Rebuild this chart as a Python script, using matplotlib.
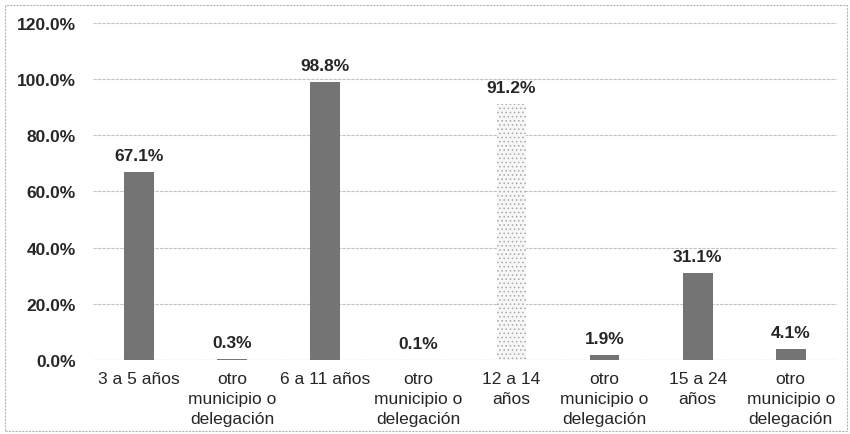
import matplotlib
matplotlib.use("Agg")
import matplotlib.pyplot as plt
from matplotlib.patches import Rectangle

plt.rcParams['font.family'] = ['Liberation Sans', 'DejaVu Sans']
plt.rcParams['hatch.linewidth'] = 0.6

categories = ["3 a 5 años", "otro\nmunicipio o\ndelegación", "6 a 11 años",
              "otro\nmunicipio o\ndelegación", "12 a 14\naños",
              "otro\nmunicipio o\ndelegación", "15 a 24\naños",
              "otro\nmunicipio o\ndelegación"]
values = [67.1, 0.3, 98.8, 0.1, 91.2, 1.9, 31.1, 4.1]
value_labels = ["67.1%", "0.3%", "98.8%", "0.1%", "91.2%", "1.9%", "31.1%", "4.1%"]
yticks = [0, 20, 40, 60, 80, 100, 120]
ytick_labels = ["0.0%", "20.0%", "40.0%", "60.0%", "80.0%", "100.0%", "120.0%"]

FS = 12.5

fig = plt.figure(figsize=(8.5, 4.35), dpi=100)
ax = fig.add_axes([0.109, 0.170, 0.876, 0.775])

x = list(range(len(values)))
bars = ax.bar(x, values, width=0.32, color="#747474", zorder=3, linewidth=0)
light = bars[4]
light.set_facecolor("#f7f7f7")
light.set_hatch("....")
light.set_edgecolor("#a8a8a8")
light.set_linewidth(0)

for xi, v, lab in zip(x, values, value_labels):
    ax.annotate(lab, (xi, v), xytext=(0, 6.5), textcoords="offset points",
                ha="center", va="bottom", fontsize=FS, fontweight="bold",
                color="#262626")

ax.set_ylim(0, 120)
ax.set_xlim(-0.5, len(values) - 0.5)
ax.set_yticks(yticks)
ax.set_yticklabels(ytick_labels, fontsize=FS, fontweight="bold", color="#262626")
ax.set_xticks(x)
ax.set_xticklabels(categories, fontsize=FS, color="#262626", linespacing=1.4)
ax.tick_params(axis="both", length=0)
ax.tick_params(axis="y", pad=12)
ax.tick_params(axis="x", pad=8)
ax.yaxis.grid(True, color="#c4c4c4", linewidth=0.8, linestyle=(0, (3, 1)), zorder=0)
for s in ax.spines.values():
    s.set_visible(False)
ax.axhline(0, color="#bdbdbd", linewidth=0.8, linestyle=(0, (3, 1)), zorder=2)

fig.patches.append(Rectangle((0.006, 0.006), 0.991, 0.981, transform=fig.transFigure,
                             fill=False, edgecolor="#b5b5b5", linewidth=0.8,
                             linestyle=(0, (2, 1))))

fig.savefig("out.png", dpi=100)
